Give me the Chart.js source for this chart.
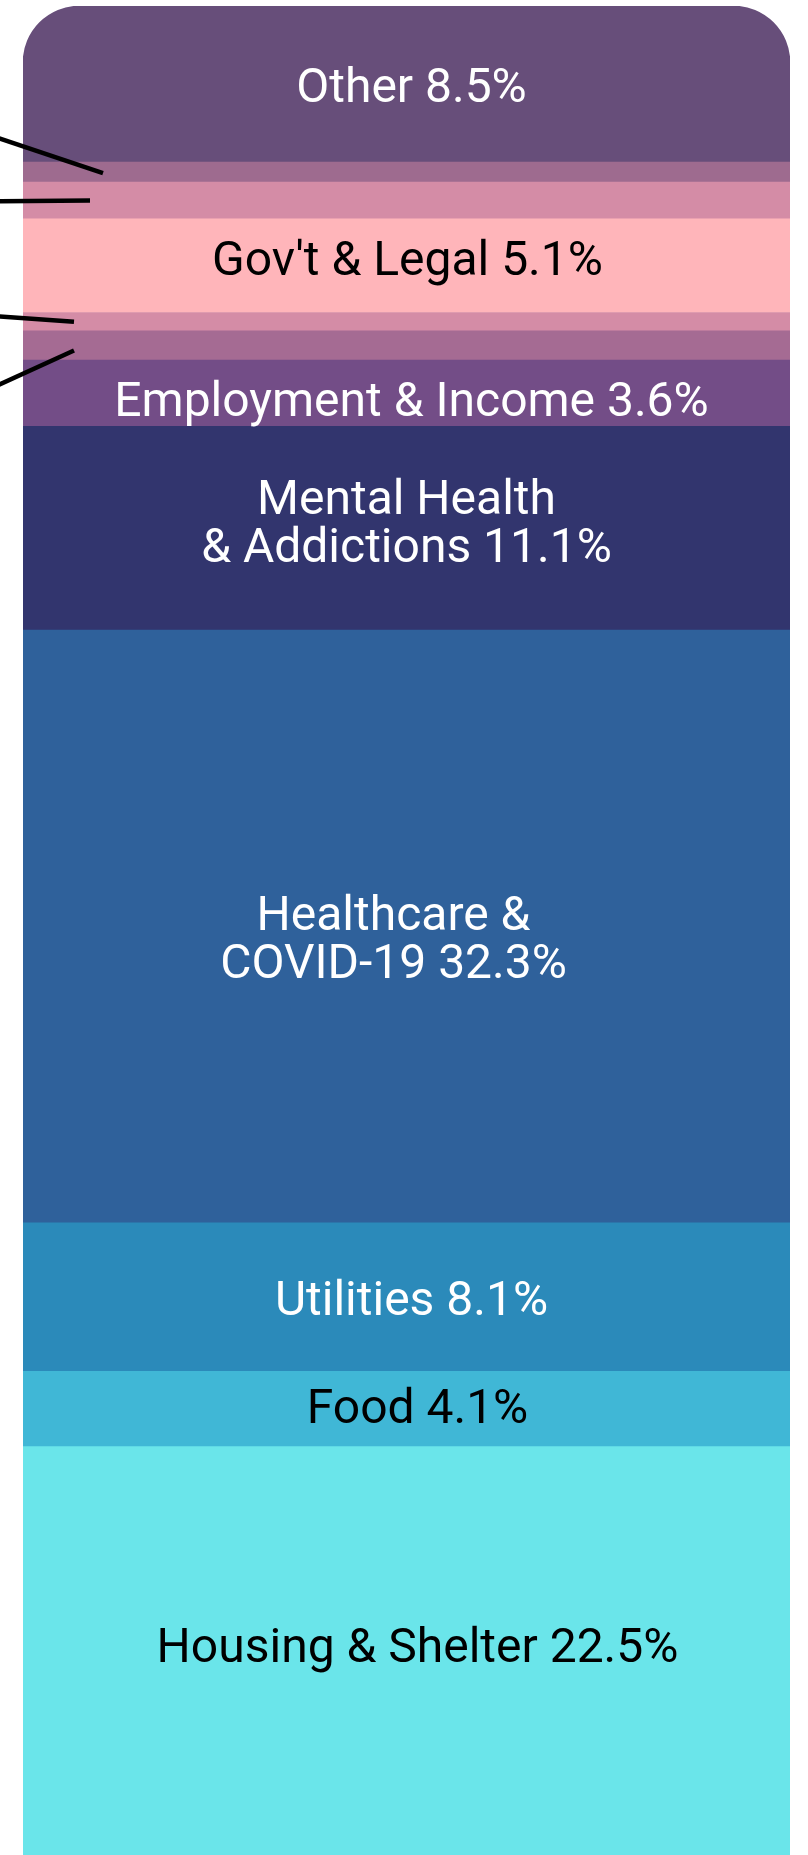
<!DOCTYPE html>
<html>
<head>
<meta charset="utf-8">
<script src="https://cdn.jsdelivr.net/npm/chart.js@4.4.1/dist/chart.umd.min.js"></script>
<style>
  html, body { margin: 0; padding: 0; background: #fff; overflow: hidden; }
  #wrap { width: 808px; height: 1855px; position: relative; }
</style>
</head>
<body>
<div id="wrap"><canvas id="needsChart"></canvas></div>
<script>
// Segments, bottom of the stack first
const categories = [
  'Housing & Shelter',
  'Food',
  'Utilities',
  'Healthcare & COVID-19',
  'Mental Health & Addictions',
  'Employment & Income',
  '',
  '',
  "Gov't & Legal",
  '',
  '',
  'Other'
];
// label text as drawn inside the bar ([] = label sits outside, off to the left)
const labelLines = [
  ['Housing & Shelter'],
  ['Food'],
  ['Utilities'],
  ['Healthcare &', 'COVID-19'],
  ['Mental Health', '& Addictions'],
  ['Employment & Income'],
  [],
  [],
  ["Gov't & Legal"],
  [],
  [],
  ['Other']
];
const shares = [22.5, 4.1, 8.1, 32.3, 11.1, 3.6, 1.6, 1.0, 5.1, 2.0, 1.1, 8.5];

const fillColors = [
  '#6ae5ea', '#40b7d6', '#2b8aba', '#2f619b', '#32356e', '#734d87',
  '#a56b93', '#d48ca6', '#ffb5ba', '#d48ca6', '#9e6b8f', '#674e7a'
];
const textColors = [
  '#000', '#000', '#fff', '#fff', '#fff', '#fff',
  '#fff', '#000', '#000', '#000', '#fff', '#fff'
];

// small nudges so each label sits where the original placed it
const labelNudge = {
  0: [11, -6], 1: [11, -1], 2: [5, 3], 3: [-13, 13],
  4: [0, -5], 5: [5, 8], 8: [1, -6], 11: [5, 3]
};

// leader lines for the small segments whose labels are outside the picture
const leaders = {
  6: { x: 74, dy: 5, toX: -40, toY: 52 },
  7: { x: 74, dy: 0, toX: -40, toY: -8 },
  9: { x: 90, dy: 0, toX: -40, toY: 1 },
  10: { x: 103, dy: 1, toX: -40, toY: -48 }
};

const insideLabels = {
  id: 'insideLabels',
  afterDatasetsDraw(chart) {
    const ctx = chart.ctx;
    ctx.save();
    ctx.font = '48px Roboto';
    ctx.textAlign = 'center';
    ctx.textBaseline = 'middle';
    chart.data.datasets.forEach((ds, i) => {
      const bar = chart.getDatasetMeta(i).data[0];
      if (!bar) return;
      const mid = (bar.y + bar.base) / 2;
      const lines = labelLines[i].slice();
      if (lines.length) {
        lines[lines.length - 1] += ' ' + shares[i].toFixed(1) + '%';
        const [nx, ny] = labelNudge[i] || [0, 0];
        ctx.fillStyle = textColors[i];
        const lh = 48;
        const top = mid - (lines.length - 1) * lh / 2 + 3 + ny;
        lines.forEach((t, k) => ctx.fillText(t, bar.x + nx, top + k * lh));
      }
      const ld = leaders[i];
      if (ld) {
        ctx.beginPath();
        ctx.strokeStyle = '#000';
        ctx.lineWidth = 4.5;
        const y0 = mid + ld.dy;
        ctx.moveTo(ld.x, y0);
        ctx.lineTo(ld.toX, y0 + ld.toY);
        ctx.stroke();
      }
    });
    ctx.restore();
  }
};

function buildDatasets() {
  return categories.map((name, i) => ({
    label: name,
    data: [shares[i]],
    backgroundColor: fillColors[i],
    borderWidth: 0,
    borderSkipped: false,
    borderRadius: i === categories.length - 1
      ? { topLeft: 57, topRight: 57, bottomLeft: 0, bottomRight: 0 }
      : 0,
    barPercentage: 1,
    categoryPercentage: 1
  }));
}

document.addEventListener('DOMContentLoaded', () => {
  const total = shares.reduce((a, b) => a + b, 0);
  new Chart(document.getElementById('needsChart'), {
    type: 'bar',
    data: { labels: ['Needs'], datasets: buildDatasets() },
    options: {
      responsive: true,
      maintainAspectRatio: false,
      animation: false,
      layout: { padding: { top: 6, left: 23, right: 18, bottom: 0 } },
      plugins: { legend: { display: false }, tooltip: { enabled: false } },
      scales: {
        x: { stacked: true, display: false },
        y: { stacked: true, display: false, min: 0.25, max: Math.round(total * 10) / 10 }
      }
    },
    plugins: [insideLabels]
  });
});
</script>
</body>
</html>
